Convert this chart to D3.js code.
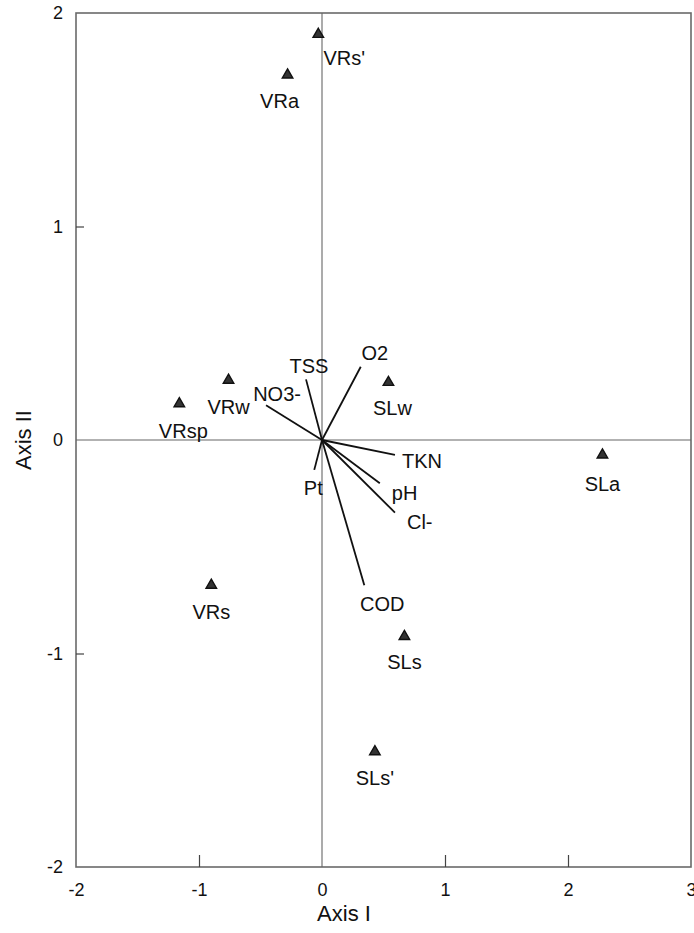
<!DOCTYPE html>
<html>
<head>
<meta charset="utf-8">
<script src="https://cdn.jsdelivr.net/npm/d3@7"></script>
<style>
	body { margin: 0; background: #fff; }
	svg text { font-family: "Liberation Sans", Arial, sans-serif; fill: #111; }
</style>
</head>
<body>
<svg width="694" height="933"></svg>
<script>
// sample sites (triangles)
var siteNames = ["VRs'", "VRa", "VRw", "VRsp", "SLw", "SLa", "VRs", "SLs", "SLs'"];
var siteX = [-0.03, -0.28, -0.76, -1.16, 0.54, 2.28, -0.90, 0.67, 0.43];
var siteY = [1.90, 1.71, 0.28, 0.17, 0.27, -0.07, -0.68, -0.92, -1.46];

// environmental variables (arrows from origin)
var varNames = ["TSS", "O2", "NO3-", "TKN", "pH", "Cl-", "Pt", "COD"];
var varX = [-0.13, 0.315, -0.455, 0.593, 0.47, 0.593, -0.063, 0.344];
var varY = [0.284, 0.343, 0.163, -0.07, -0.203, -0.34, -0.14, -0.68];

var xTicks = [-2, -1, 0, 1, 2, 3];
var yTicks = [-2, -1, 0, 1, 2];

// label placement (pixels), kept apart from the data
var siteLabelDx = [26, -8, 0, 4, 4, 0, 0, 0, 0];
var siteLabelDy = [24, 26, 27, 27, 26, 29, 27, 26, 26];
var varLabelDx = [3, 14, 11, 7, 12, 12, -1, 18];
var varLabelDy = [-13, -14, -11, 6, 10, 9, 18, 19];
var varAnchor = ["middle", "middle", "middle", "start", "start", "start", "middle", "middle"];

var x = d3.scaleLinear().domain([-2, 3]).range([76, 691]);
var y = d3.scaleLinear().domain([-2, 2]).range([867, 13]);

var svg = d3.select("svg");

// frame
svg.append("rect")
	.attr("x", x(-2)).attr("y", y(2))
	.attr("width", x(3) - x(-2)).attr("height", y(-2) - y(2))
	.attr("fill", "none").attr("stroke", "#6a6a6a").attr("stroke-width", 1.6);

// zero lines
svg.append("line")
	.attr("x1", x(-2)).attr("x2", x(3)).attr("y1", y(0)).attr("y2", y(0))
	.attr("stroke", "#666").attr("stroke-width", 1.1);
svg.append("line")
	.attr("x1", x(0)).attr("x2", x(0)).attr("y1", y(2)).attr("y2", y(-2))
	.attr("stroke", "#666").attr("stroke-width", 1.1);

// axes with inward ticks, plain hyphen for negatives
var fmt = function (d) { return String(d); };

var xAxis = d3.axisBottom(x).tickValues(xTicks).tickSize(-12).tickPadding(22).tickFormat(fmt);
var gx = svg.append("g").attr("transform", "translate(0," + y(-2) + ")").call(xAxis);
gx.select(".domain").remove();
gx.selectAll("line").attr("stroke", "#444").attr("stroke-width", 1.2)
	.filter(function (d) { return d === -2 || d === 0 || d === 3; }).remove();
gx.selectAll("text").attr("font-size", 18).attr("fill", "#111").attr("dy", "0.35em").attr("y", 23);

var yAxis = d3.axisLeft(y).tickValues(yTicks).tickSize(-8).tickPadding(13).tickFormat(fmt);
var gy = svg.append("g").attr("transform", "translate(" + x(-2) + ",0)").call(yAxis);
gy.select(".domain").remove();
gy.selectAll("line").attr("stroke", "#444").attr("stroke-width", 1.2)
	.filter(function (d) { return d === -2 || d === 0 || d === 2; }).remove();
gy.selectAll("text").attr("font-size", 18).attr("fill", "#111");

// axis titles
svg.append("text")
	.attr("x", 344).attr("y", 913).attr("dy", "0.35em")
	.attr("text-anchor", "middle").attr("font-size", 22)
	.text("Axis I");
svg.append("text")
	.attr("transform", "translate(23,440) rotate(-90)")
	.attr("dy", "0.35em")
	.attr("text-anchor", "middle").attr("font-size", 22)
	.text("Axis II");

// variable arrows
var vars = varNames.map(function (n, i) { return { name: n, x: varX[i], y: varY[i], i: i }; });

svg.selectAll(".vec")
	.data(vars)
	.enter()
	.append("line")
	.attr("class", "vec")
	.attr("x1", x(0)).attr("y1", y(0))
	.attr("x2", function (d) { return x(d.x); })
	.attr("y2", function (d) { return y(d.y); })
	.attr("stroke", "#111").attr("stroke-width", 1.8);

svg.selectAll(".vlab")
	.data(vars)
	.enter()
	.append("text")
	.attr("class", "vlab")
	.attr("x", function (d) { return x(d.x) + varLabelDx[d.i]; })
	.attr("y", function (d) { return y(d.y) + varLabelDy[d.i]; })
	.attr("dy", "0.35em")
	.attr("text-anchor", function (d) { return varAnchor[d.i]; })
	.attr("font-size", 20)
	.text(function (d) { return d.name; });

// sites
var sites = siteNames.map(function (n, i) { return { name: n, x: siteX[i], y: siteY[i], i: i }; });

svg.selectAll(".site")
	.data(sites)
	.enter()
	.append("path")
	.attr("class", "site")
	.attr("d", d3.symbol(d3.symbolTriangle).size(48))
	.attr("transform", function (d) { return "translate(" + x(d.x) + "," + y(d.y) + ")"; })
	.attr("fill", "#333").attr("stroke", "#111").attr("stroke-width", 1.4);

svg.selectAll(".slab")
	.data(sites)
	.enter()
	.append("text")
	.attr("class", "slab")
	.attr("x", function (d) { return x(d.x) + siteLabelDx[d.i]; })
	.attr("y", function (d) { return y(d.y) + siteLabelDy[d.i]; })
	.attr("dy", "0.35em")
	.attr("text-anchor", "middle")
	.attr("font-size", 20)
	.text(function (d) { return d.name; });
</script>
</body>
</html>
